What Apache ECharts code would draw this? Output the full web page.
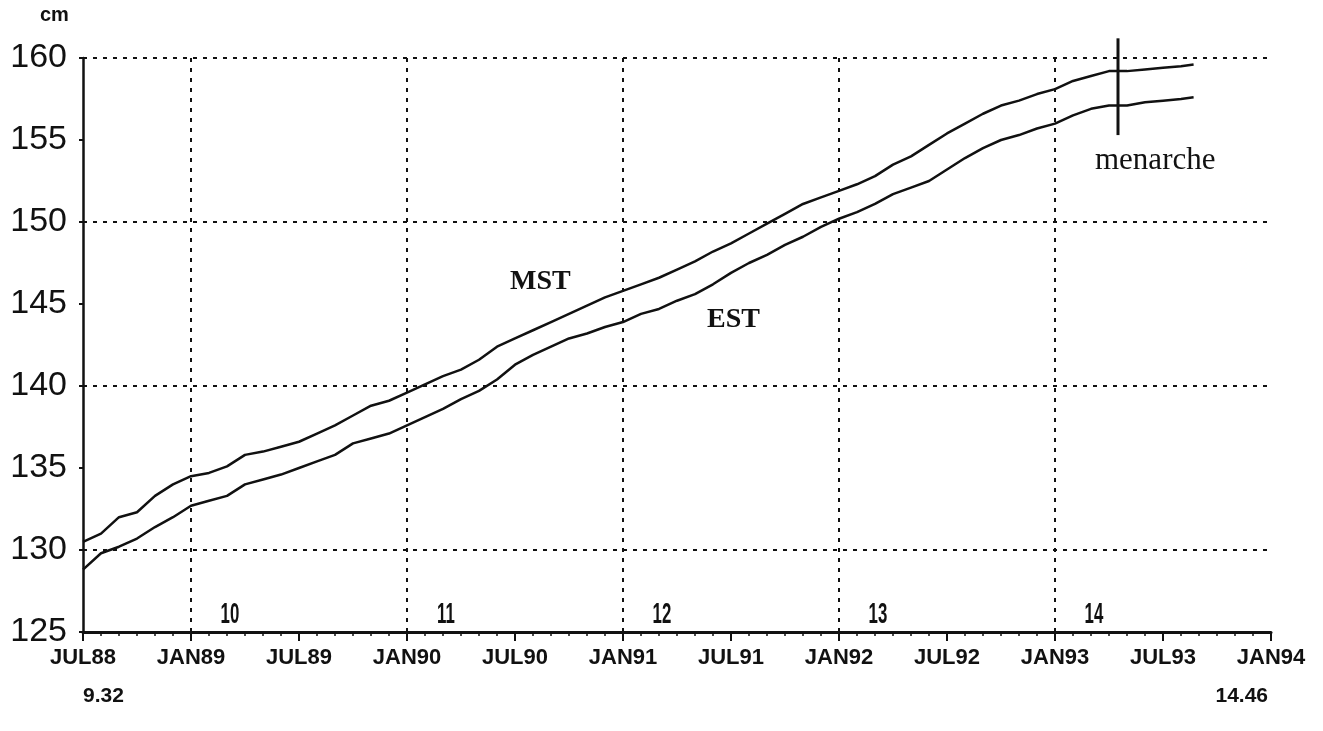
<!DOCTYPE html>
<html>
<head>
<meta charset="utf-8">
<script src="https://cdn.jsdelivr.net/npm/echarts@6/dist/echarts.min.js"></script>
<style>
  html, body { margin: 0; padding: 0; background: #fff; }
  #chart { width: 1323px; height: 731px; }
</style>
</head>
<body>
<div id="chart"></div>
<script>
// months counted from JUL88 (0) to JAN94 (66)
const months = [0, 1, 2, 3, 4, 5, 6, 7, 8, 9, 10, 11, 12, 13, 14, 15, 16, 17, 18, 19, 20,
  21, 22, 23, 24, 25, 26, 27, 28, 29, 30, 31, 32, 33, 34, 35, 36, 37, 38, 39, 40,
  41, 42, 43, 44, 45, 46, 47, 48, 49, 50, 51, 52, 53, 54, 55, 56, 57, 58, 59, 60, 61, 61.7];
// standing height, MST (upper curve)
const mst = [130.5, 131.0, 132.0, 132.3, 133.3, 134.0, 134.5, 134.7, 135.1, 135.8, 136.0,
  136.3, 136.6, 137.1, 137.6, 138.2, 138.8, 139.1, 139.6, 140.1, 140.6,
  141.0, 141.6, 142.4, 142.9, 143.4, 143.9, 144.4, 144.9, 145.4, 145.8,
  146.2, 146.6, 147.1, 147.6, 148.2, 148.7, 149.3, 149.9, 150.5, 151.1,
  151.5, 151.9, 152.3, 152.8, 153.5, 154.0, 154.7, 155.4, 156.0, 156.6,
  157.1, 157.4, 157.8, 158.1, 158.6, 158.9, 159.2, 159.2, 159.3, 159.4, 159.5, 159.6];
// EST (lower curve)
const est = [128.8, 129.8, 130.2, 130.7, 131.4, 132.0, 132.7, 133.0, 133.3, 134.0, 134.3,
  134.6, 135.0, 135.4, 135.8, 136.5, 136.8, 137.1, 137.6, 138.1, 138.6,
  139.2, 139.7, 140.4, 141.3, 141.9, 142.4, 142.9, 143.2, 143.6, 143.9,
  144.4, 144.7, 145.2, 145.6, 146.2, 146.9, 147.5, 148.0, 148.6, 149.1,
  149.7, 150.2, 150.6, 151.1, 151.7, 152.1, 152.5, 153.2, 153.9, 154.5,
  155.0, 155.3, 155.7, 156.0, 156.5, 156.9, 157.1, 157.1, 157.3, 157.4, 157.5, 157.6];

const tickLabels = ['JUL88', 'JAN89', 'JUL89', 'JAN90', 'JUL90', 'JAN91', 'JUL91',
  'JAN92', 'JUL92', 'JAN93', 'JUL93', 'JAN94'];
const janMonths = [6, 18, 30, 42, 54];
const gridValues = [130, 140, 150, 160];
const startAge = 9.32;
const endAge = 14.46;
const ages = [10, 11, 12, 13, 14];
const menarche = [57.5, 161.2, 155.3]; // month, top, bottom

const ink = '#111';
const dotted = { color: ink, width: 2, type: [4, 6] };

const chart = echarts.init(document.getElementById('chart'));
chart.setOption({
  animation: false,
  backgroundColor: '#fff',
  grid: { left: 83, right: 52, top: 58, bottom: 99 },
  xAxis: {
    type: 'value', min: 0, max: 66, interval: 6,
    axisLine: { lineStyle: { color: ink, width: 3 } },
    axisTick: { length: 9, lineStyle: { color: ink, width: 2 } },
    minorTick: { show: true, splitNumber: 6, length: 4, lineStyle: { color: ink, width: 1.5 } },
    splitLine: { show: false },
    axisLabel: {
      margin: 15, color: ink, fontFamily: 'Liberation Sans', fontWeight: 'bold', fontSize: 22,
      formatter: v => tickLabels[Math.round(v / 6)]
    }
  },
  yAxis: {
    type: 'value', min: 125, max: 160, interval: 5,
    axisLine: { show: true, lineStyle: { color: ink, width: 2.5 } },
    axisTick: { show: true, length: 4, lineStyle: { color: ink, width: 2 } },
    splitLine: { show: false },
    axisLabel: { margin: 16, color: ink, fontFamily: 'Liberation Sans', fontSize: 34 }
  },
  graphic: [
    { type: 'text', left: 40, top: 5, style: { text: 'cm', font: 'bold 20px "Liberation Sans"', fill: ink } },
    { type: 'text', left: 83, top: 686, style: { text: startAge.toFixed(2), font: 'bold 21px "Liberation Sans"', fill: ink } },
    { type: 'text', right: 55, top: 686, style: { text: endAge.toFixed(2), font: 'bold 21px "Liberation Sans"', fill: ink } },
    { type: 'text', left: 510, top: 268, style: { text: 'MST', font: 'bold 28px "Liberation Serif"', fill: ink } },
    { type: 'text', left: 707, top: 306, style: { text: 'EST', font: 'bold 28px "Liberation Serif"', fill: ink } },
    { type: 'text', left: 1095, top: 145, style: { text: 'menarche', font: '31px "Liberation Serif"', fill: ink } }
  ],
  series: [
    {
      name: 'grid', type: 'line', data: [], silent: true,
      markLine: {
        symbol: 'none', silent: true, label: { show: false },
        lineStyle: dotted,
        data: janMonths.map(m => ({ xAxis: m })).concat(gridValues.map(v => ({ yAxis: v })))
      }
    },
    {
      name: 'MST', type: 'line', showSymbol: false, smooth: false,
      lineStyle: { color: ink, width: 2.5 },
      data: months.map((m, i) => [m, mst[i]])
    },
    {
      name: 'EST', type: 'line', showSymbol: false, smooth: false,
      lineStyle: { color: ink, width: 2.5 },
      data: months.map((m, i) => [m, est[i]])
    },
    {
      name: 'menarche', type: 'custom', clip: false, silent: true,
      data: [menarche],
      renderItem: (params, api) => {
        const p1 = api.coord([api.value(0), api.value(1)]);
        const p2 = api.coord([api.value(0), api.value(2)]);
        return {
          type: 'line',
          shape: { x1: p1[0], y1: p1[1], x2: p2[0], y2: p2[1] },
          style: { stroke: ink, lineWidth: 3 }
        };
      }
    },
    {
      name: 'age', type: 'custom', clip: false, silent: true,
      data: ages.map(a => [(a - startAge) * 12, 125, a]),
      renderItem: (params, api) => {
        const p = api.coord([api.value(0), api.value(1)]);
        return {
          type: 'text',
          x: p[0], y: p[1] - 3, scaleX: 0.58,
          style: {
            text: String(api.value(2)), fill: ink,
            font: 'bold 29px "Liberation Sans"',
            align: 'center', verticalAlign: 'bottom'
          }
        };
      }
    }
  ]
});
</script>
</body>
</html>
